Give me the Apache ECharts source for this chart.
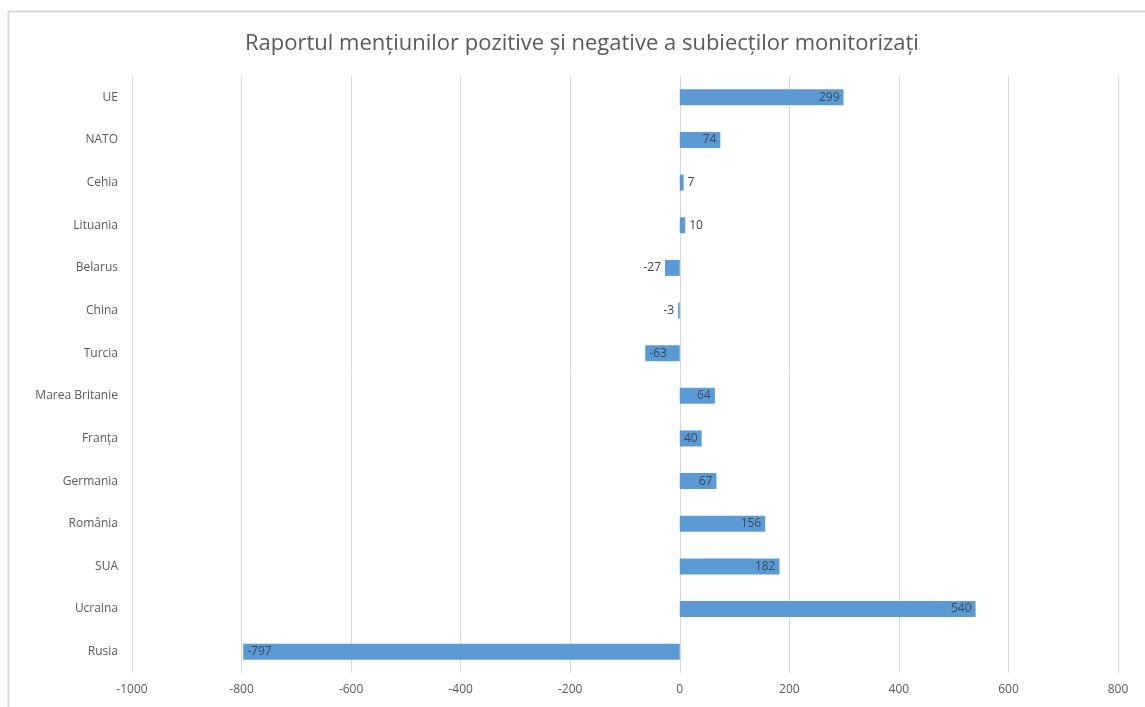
<!DOCTYPE html>
<html><head><meta charset="utf-8">
<script src="https://cdn.jsdelivr.net/npm/echarts@6/dist/echarts.min.js"></script>
<style>html,body{margin:0;padding:0;background:#fff}#c{width:1145px;height:707px}</style>
</head><body><div id="c"></div>
<script>
const categories = ['UE','NATO','Cehia','Lituania','Belarus','China','Turcia','Marea Britanie','Franța','Germania','România','SUA','Ucraina','Rusia'];
const values = [299,74,7,10,-27,-3,-63,64,40,67,156,182,540,-797];
const xTicks = {min:-1000, max:800, interval:200};
const titleText = 'Raportul mențiunilor pozitive și negative a subiecților monitorizați';

const font = '"Open Sans", "Noto Sans", sans-serif';
const data = values.map(v => {
  const small = Math.abs(v) < 30;
  let pos;
  if (v >= 0) pos = small ? 'right' : 'insideRight';
  else pos = small ? 'left' : 'insideLeft';
  return {value: v, label: {position: pos, color: small ? '#404040' : '#3a4a5c'}};
});

const chart = echarts.init(document.getElementById('c'), null, {renderer:'canvas'});
chart.setOption({
  animation:false,
  backgroundColor:'#fff',
  graphic:[{type:'rect', shape:{x:8.5,y:11.5,width:1160,height:720}, style:{fill:'none', stroke:'#d9d9d9', lineWidth:2}, z:-1}],
  title:{text:titleText, left:240, top:28, textStyle:{fontFamily:font, fontSize:22, fontWeight:'normal', color:'#595959'}},
  grid:{left:132, right:27, top:76, bottom:34, containLabel:false},
  xAxis:{type:'value', min:xTicks.min, max:xTicks.max, interval:xTicks.interval,
    axisLine:{show:false}, axisTick:{show:false},
    splitLine:{lineStyle:{color:'#d9d9d9', width:1}},
    axisLabel:{fontFamily:font, fontSize:12, color:'#595959', margin:11, formatter: v => String(v)}},
  yAxis:{type:'category', data:categories, inverse:true,
    axisLine:{show:false}, axisTick:{show:false},
    axisLabel:{fontFamily:font, fontSize:12, color:'#595959', margin:14}},
  series:[{type:'bar', data:data, barWidth:16, itemStyle:{color:'#5b9bd5'},
    label:{show:true, fontFamily:font, fontSize:12, distance:4}}]
});
</script></body></html>
